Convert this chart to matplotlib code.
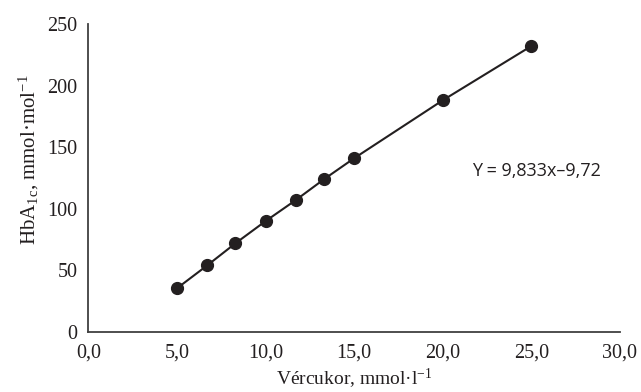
import matplotlib
matplotlib.use("Agg")
import matplotlib.pyplot as plt

glucose = [5.0, 6.7, 8.3, 10.0, 11.7, 13.3, 15.0, 20.0, 25.0]
hba1c = [35.5, 54, 72, 90, 107, 124, 141, 188, 232]
xticks = [0, 5, 10, 15, 20, 25, 30]
xtick_labels = ["0,0", "5,0", "10,0", "15,0", "20,0", "25,0", "30,0"]
yticks = [0, 50, 100, 150, 200, 250]
equation = "Y = 9,833x\u20139,72"

plt.rcParams["font.family"] = ["Liberation Serif", "DejaVu Serif"]
plt.rcParams["mathtext.fontset"] = "custom"
plt.rcParams["mathtext.rm"] = "Liberation Serif"
plt.rcParams["mathtext.it"] = "Liberation Serif:italic"

fig = plt.figure(figsize=(6.41, 3.92), dpi=100)
ax = fig.add_axes([0.138, 0.153, 0.829, 0.786])
dark = "#231f20"
ax.plot(glucose, hba1c, color=dark, lw=1.5, marker="o", ms=8.5,
        mfc=dark, mec=dark, clip_on=False)
ax.set_xlim(0, 30)
ax.set_ylim(0, 250)
ax.set_xticks(xticks)
ax.set_xticklabels(xtick_labels)
ax.set_yticks(yticks)
ax.tick_params(length=0, labelsize=14.5, colors="#231f20", pad=8)
for s in ["top", "right"]:
    ax.spines[s].set_visible(False)
for s in ["left", "bottom"]:
    ax.spines[s].set_color("#404040")
    ax.spines[s].set_linewidth(1.3)

ax.set_xlabel("Vércukor, mmol·l$^{\u22121}$", fontsize=14, color=dark)
ax.xaxis.label.set_va("center")
ax.xaxis.set_label_coords(0.5, -0.153)
ax.set_ylabel("HbA$_{\\mathrm{1c}}$, mmol·mol$^{\u22121}$", fontsize=15, color=dark)
ax.yaxis.set_label_coords(-0.09, 0.558)
ax.text(25.3, 131, equation, fontsize=13, family=["Open Sans", "DejaVu Sans"],
        color=dark, ha="center", va="center")

fig.savefig("out.png", dpi=100)
